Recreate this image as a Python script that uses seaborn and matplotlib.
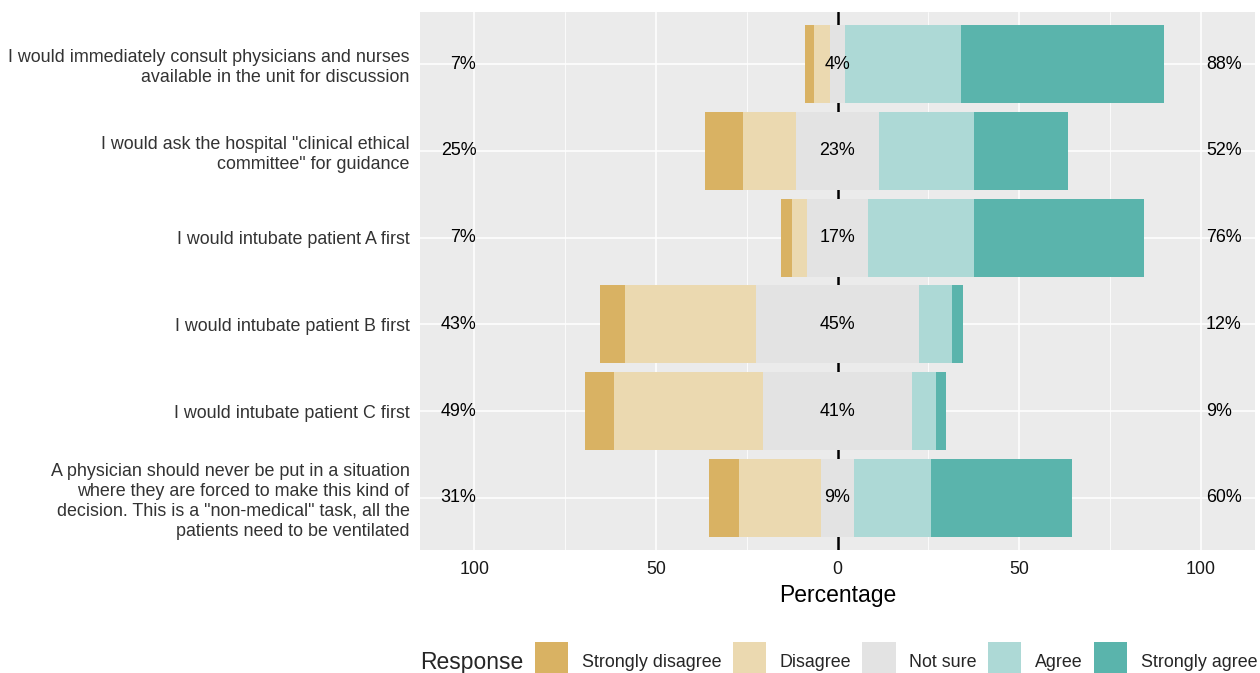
import matplotlib
matplotlib.use("Agg")
import matplotlib.pyplot as plt
from matplotlib.patches import Patch, Rectangle
from matplotlib.legend_handler import HandlerPatch
import seaborn as sns
import pandas as pd
import numpy as np

categories = [
    "I would immediately consult physicians and nurses\navailable in the unit for discussion",
    "I would ask the hospital \"clinical ethical\ncommittee\" for guidance",
    "I would intubate patient A first",
    "I would intubate patient B first",
    "I would intubate patient C first",
    "A physician should never be put in a situation\nwhere they are forced to make this kind of\ndecision. This is a \"non-medical\" task, all the\npatients need to be ventilated",
]
strongly_disagree = [2.5, 10.5, 3.0, 7.0, 8.0, 8.5]
disagree = [4.5, 14.5, 4.0, 36.0, 41.0, 22.5]
not_sure = [4.0, 23.0, 17.0, 45.0, 41.0, 9.0]
agree = [32.0, 26.0, 29.0, 9.0, 6.6, 21.3]
strongly_agree = [56.0, 26.0, 47.0, 3.0, 2.7, 38.7]

responses = ["Strongly disagree", "Disagree", "Not sure", "Agree", "Strongly agree"]
colors = ["#D9B263", "#EBD9B0", "#E3E3E3", "#ADD9D6", "#5AB4AC"]
xticks = [-100, -50, 0, 50, 100]
xticklabels = ["100", "50", "0", "50", "100"]

sns.set_theme(style="darkgrid")
plt.rcParams["font.family"] = ["Liberation Sans", "DejaVu Sans"]

df = pd.DataFrame({
    "item": categories,
    "sd": strongly_disagree, "d": disagree, "n": not_sure,
    "a": agree, "sa": strongly_agree,
})
half = df["n"] / 2
layers = [
    (half + df["a"] + df["sa"], colors[4]),
    (half + df["a"], colors[3]),
    (-(half + df["d"] + df["sd"]), colors[0]),
    (-(half + df["d"]), colors[1]),
    (half, colors[2]),
    (-half, colors[2]),
]

FS = 12.9
fig = plt.figure(figsize=(12.6, 6.73), dpi=100)
ax = fig.add_axes([420 / 1260, 1 - 550 / 673, 835 / 1260, 538 / 673])
ax.set_facecolor("#EBEBEB")

ax.axvline(0, color="black", lw=1.8, zorder=0.8)
for vals, col in layers:
    sns.barplot(x=vals.values, y=df["item"], color=col, orient="h",
                width=0.9, ax=ax, saturation=1, linewidth=0, zorder=2)

low = (df["sd"] + df["d"]).round().astype(int)
high = (df["a"] + df["sa"]).round().astype(int)
mid = df["n"].round().astype(int)
for i in range(len(df)):
    ax.text(-99.5, i, f"{low[i]}%", ha="right", va="center", fontsize=FS, color="black", zorder=3)
    ax.text(101.5, i, f"{high[i]}%", ha="left", va="center", fontsize=FS, color="black", zorder=3)
    ax.text(0, i, f"{mid[i]}%", ha="center", va="center", fontsize=FS, color="black", zorder=3)

ax.set_xlim(-115, 115)
ax.set_ylim(len(df) - 0.4, -0.6)
ax.set_xticks(xticks)
ax.set_xticklabels(xticklabels)
ax.set_xticks([-75, -25, 25, 75], minor=True)
ax.grid(True, which="major", axis="both", color="white", lw=1.1)
ax.grid(True, which="minor", axis="x", color="white", lw=0.55)
ax.set_axisbelow(True)
for s in ax.spines.values():
    s.set_visible(False)
ax.tick_params(axis="both", which="both", length=0)
ax.tick_params(axis="x", pad=8, labelsize=FS, labelcolor="#1A1A1A")
ax.tick_params(axis="y", pad=7.5, labelsize=FS, labelcolor="#333333")
for lab in ax.get_yticklabels():
    lab.set_linespacing(1.22)
ax.set_ylabel("")
ax.set_xlabel("Percentage", fontsize=16.5, color="black", labelpad=4)


def raised_patch(legend, orig_handle, xdescent, ydescent, width, height, fontsize):
    return Rectangle((-xdescent, -ydescent + 2), width, height)


fig.text(420 / 1260, 1 - 662 / 673, "Response", fontsize=16.5, ha="left", va="center")
handles = [Patch(facecolor=c, edgecolor="none") for c in colors]
fig.legend(handles, responses, ncol=5, loc="center left",
           bbox_to_anchor=(535 / 1260, 1 - 662 / 673), frameon=False,
           fontsize=FS, handlelength=1.85, handleheight=2.5,
           handletextpad=0.75, columnspacing=0.65, borderpad=0, borderaxespad=0,
           handler_map={Patch: HandlerPatch(patch_func=raised_patch)})

fig.savefig("out.png", dpi=100)
